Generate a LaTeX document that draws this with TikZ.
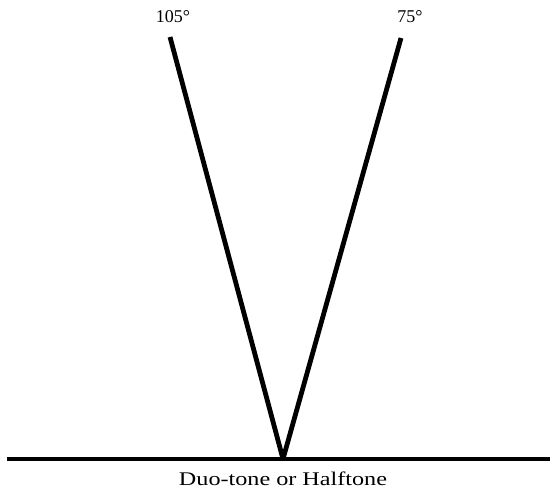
\documentclass[tikz,border=0pt]{standalone}
\usepackage{fontspec}
\usepackage{graphicx}
\setmainfont{Liberation Serif}
\begin{document}
\begin{tikzpicture}[x=0.75pt,y=-0.75pt,
  ray/.style={line width=3.6pt,line cap=butt},
  base/.style={line width=3pt},
  lbl/.style={font=\fontsize{13.5pt}{15pt}\selectfont,inner sep=0pt},
  caplbl/.style={font=\fontsize{14.5pt}{16pt}\selectfont,inner sep=0pt}]
\useasboundingbox (0,0) rectangle (550,491);
\coordinate (v) at (283,459);
\coordinate (l) at (170,37);
\coordinate (r) at (401,38);
\coordinate (b0) at (7,459);
\coordinate (b1) at (550,459);
\draw[base] (b0) -- (b1);
\draw[ray] (l) -- (v);
\draw[ray] (r) -- (v);
\node[lbl] (t105) at (173,17) {105°};
\node[lbl] (t75) at (410,17) {75°};
\node[caplbl] (cap) at (283,479) {\scalebox{1.25}[1]{Duo-tone or Halftone}};
\end{tikzpicture}
\end{document}
